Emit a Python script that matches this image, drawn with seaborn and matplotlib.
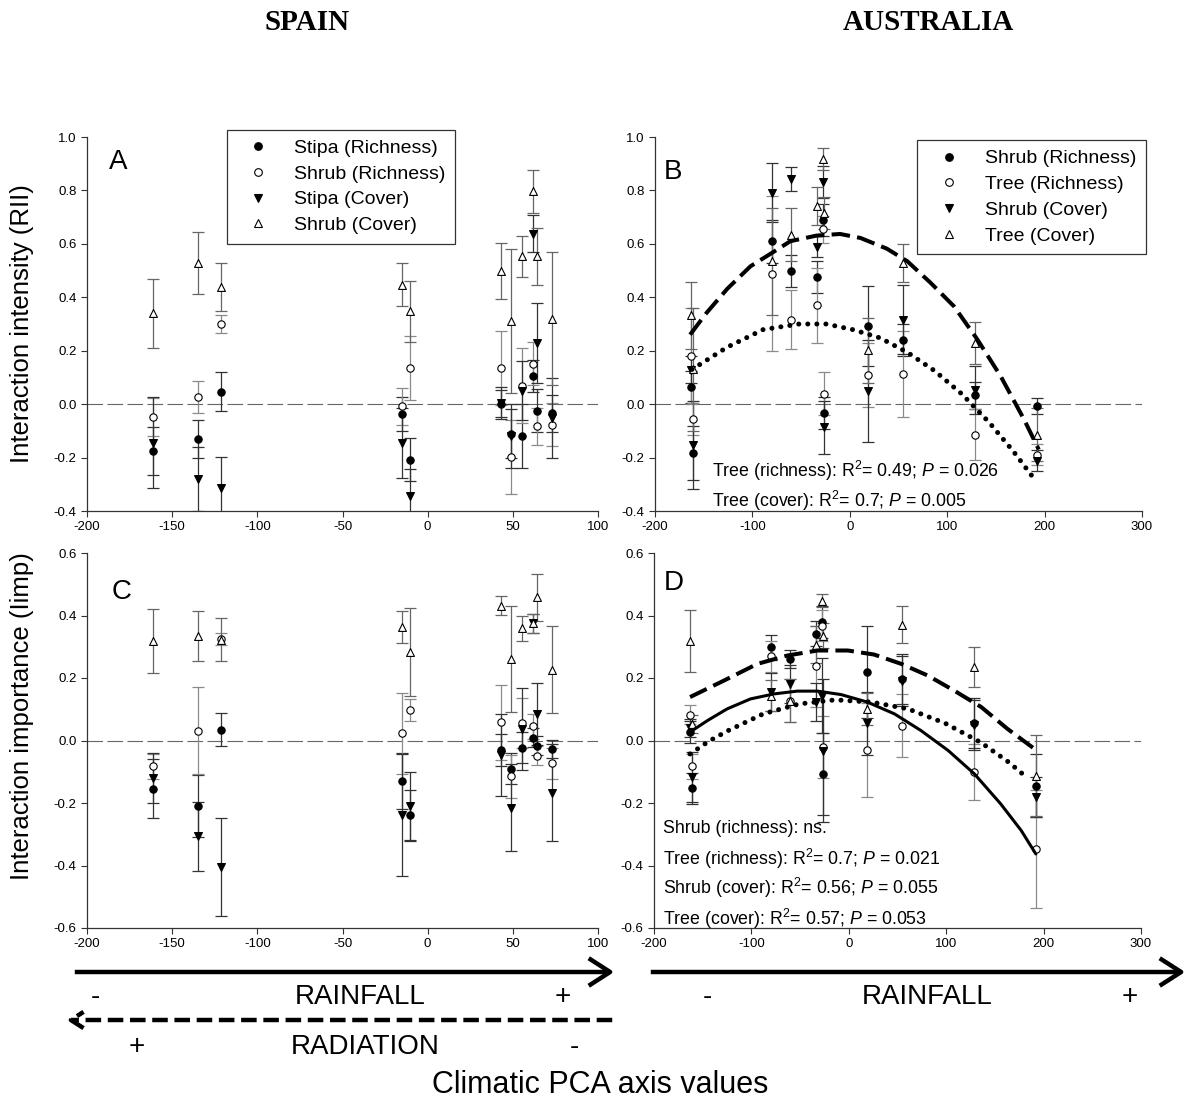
import seaborn as sns
import matplotlib.pyplot as plt
from matplotlib.lines import Line2D
from matplotlib.patches import FancyArrowPatch

### DATA
# site positions on the climatic PCA axis
spain_x = [-161, -135, -121.5, -15, -10.5, 43, 49, 55.5, 62, 64, 73]
aus_x = [-163, -161, -80, -60, -34, -28, -27, 19, 55, 129, 192]

# A - Spain, interaction intensity (RII)
a_stipa_rich = [-0.177, -0.13, 0.047, -0.037, -0.208, 0.002, -0.11, -0.118, 0.104, -0.024, -0.034]
a_stipa_rich_se = [0.09, 0.07, 0.072, 0.065, 0.08, 0.05, 0.09, 0.12, 0.06, 0.08, 0.07]
a_shrub_rich = [-0.048, 0.025, 0.30, -0.008, 0.134, 0.135, -0.198, 0.069, 0.152, -0.083, -0.077]
a_shrub_rich_se = [0.07, 0.06, 0.035, 0.07, 0.12, 0.14, 0.14, 0.14, 0.08, 0.07, 0.08]
a_stipa_cov = [-0.145, -0.28, -0.315, -0.145, -0.343, 0.004, -0.118, 0.05, 0.638, 0.229, -0.052]
a_stipa_cov_se = [0.17, 0.12, 0.117, 0.13, 0.1, 0.06, 0.12, 0.11, 0.07, 0.15, 0.15]
a_shrub_cov = [0.34, 0.529, 0.439, 0.447, 0.347, 0.50, 0.31, 0.553, 0.796, 0.553, 0.32]
a_shrub_cov_se = [0.128, 0.117, 0.09, 0.08, 0.115, 0.105, 0.27, 0.076, 0.08, 0.108, 0.25]

# C - Spain, interaction importance (Iimp)
c_stipa_rich = [-0.154, -0.21, 0.034, -0.13, -0.237, -0.03, -0.09, -0.023, 0.009, -0.016, -0.027]
c_stipa_rich_se = [0.095, 0.1, 0.053, 0.09, 0.08, 0.05, 0.05, 0.05, 0.03, 0.03, 0.03]
c_shrub_rich = [-0.083, 0.032, 0.325, 0.023, 0.099, 0.059, -0.115, 0.055, 0.046, -0.048, -0.073]
c_shrub_rich_se = [0.04, 0.14, 0.02, 0.13, 0.035, 0.12, 0.07, 0.08, 0.04, 0.03, 0.05]
c_stipa_cov = [-0.119, -0.307, -0.405, -0.237, -0.21, -0.046, -0.215, 0.037, 0.375, 0.085, -0.167]
c_stipa_cov_se = [0.08, 0.11, 0.157, 0.195, 0.11, 0.13, 0.14, 0.13, 0.03, 0.1, 0.155]
c_shrub_cov = [0.318, 0.336, 0.323, 0.363, 0.283, 0.432, 0.261, 0.359, 0.375, 0.459, 0.227]
c_shrub_cov_se = [0.103, 0.08, 0.07, 0.05, 0.14, 0.03, 0.17, 0.04, 0.03, 0.075, 0.138]

# B - Australia, RII
b_shrub_rich = [0.063, -0.183, 0.609, 0.497, 0.476, 0.691, -0.033, 0.291, 0.239, 0.033, -0.006]
b_shrub_rich_se = [0.06, 0.1, 0.08, 0.06, 0.06, 0.06, 0.06, 0.15, 0.06, 0.05, 0.03]
b_tree_rich = [0.179, -0.055, 0.489, 0.316, 0.37, 0.654, 0.039, 0.11, 0.113, -0.114, -0.189]
b_tree_rich_se = [0.18, 0.06, 0.29, 0.11, 0.14, 0.05, 0.08, 0.12, 0.16, 0.095, 0.04]
b_shrub_cov = [0.129, -0.152, 0.791, 0.843, 0.589, 0.831, -0.087, 0.05, 0.316, 0.054, -0.212]
b_shrub_cov_se = [0.05, 0.165, 0.11, 0.045, 0.04, 0.06, 0.1, 0.19, 0.13, 0.09, 0.04]
b_tree_cov = [0.333, 0.13, 0.535, 0.635, 0.741, 0.918, 0.716, 0.201, 0.529, 0.229, -0.114]
b_tree_cov_se = [0.125, 0.23, 0.2, 0.1, 0.07, 0.04, 0.06, 0.12, 0.07, 0.08, 0.1]

# D - Australia, Iimp
d_shrub_rich = [0.027, -0.153, 0.299, 0.261, 0.341, 0.379, -0.107, 0.219, 0.197, 0.055, -0.144]
d_shrub_rich_se = [0.035, 0.05, 0.04, 0.03, 0.04, 0.05, 0.13, 0.146, 0.08, 0.08, 0.1]
d_tree_rich = [0.083, -0.082, 0.269, 0.128, 0.237, 0.368, -0.021, -0.03, 0.048, -0.101, -0.347]
d_tree_rich_se = [0.03, 0.04, 0.05, 0.07, 0.13, 0.05, 0.1, 0.15, 0.1, 0.09, 0.19]
d_shrub_cov = [0.04, -0.117, 0.155, 0.181, 0.123, 0.144, -0.032, 0.055, 0.19, 0.05, -0.181]
d_shrub_cov_se = [0.03, 0.08, 0.06, 0.06, 0.06, 0.12, 0.23, 0.1, 0.08, 0.08, 0.065]
d_tree_cov = [0.318, 0.053, 0.144, 0.128, 0.307, 0.448, 0.336, 0.101, 0.371, 0.235, -0.112]
d_tree_cov_se = [0.1, 0.03, 0.05, 0.07, 0.06, 0.02, 0.04, 0.05, 0.06, 0.065, 0.13]

# fitted curves
b_fit_cov_x = [-164, -147, -126, -102, -80, -61, -34, -10, 11, 38, 59, 83, 107, 131, 155, 179, 194]
b_fit_cov_y = [0.26, 0.342, 0.431, 0.516, 0.566, 0.61, 0.631, 0.637, 0.622, 0.582, 0.535, 0.454, 0.366, 0.242, 0.104, -0.058, -0.17]
b_fit_rich_x = [-162, -126, -89, -52, -24, 3, 31, 59, 87, 115, 143, 168, 190]
b_fit_rich_y = [0.13, 0.213, 0.279, 0.30, 0.30, 0.279, 0.248, 0.194, 0.125, 0.038, -0.068, -0.177, -0.283]

d_fit_dash_x = [-163, -128, -94, -63, -32, -1, 26, 54, 81, 108, 136, 163, 189]
d_fit_dash_y = [0.139, 0.192, 0.245, 0.272, 0.288, 0.288, 0.275, 0.245, 0.208, 0.16, 0.107, 0.037, -0.023]
d_fit_solid_x = [-163, -145, -125, -101, -77, -53, -32, -8, 19, 47, 74, 102, 129, 156, 177, 192]
d_fit_solid_y = [0.027, 0.064, 0.101, 0.133, 0.149, 0.158, 0.158, 0.147, 0.123, 0.085, 0.032, -0.032, -0.107, -0.203, -0.288, -0.363]
d_fit_dot_x = [-163, -144, -125, -88, -51, -14, 23, 61, 99, 136, 164, 183]
d_fit_dot_y = [-0.043, -0.003, 0.03, 0.085, 0.117, 0.13, 0.123, 0.101, 0.055, -0.007, -0.069, -0.119]

spain_labels = ["Stipa (Richness)", "Shrub (Richness)", "Stipa (Cover)", "Shrub (Cover)"]
aus_labels = ["Shrub (Richness)", "Tree (Richness)", "Shrub (Cover)", "Tree (Cover)"]
rii_ticks = [-0.4, -0.2, 0.0, 0.2, 0.4, 0.6, 0.8, 1.0]
iimp_ticks = [-0.6, -0.4, -0.2, 0.0, 0.2, 0.4, 0.6]

### STYLE
sns.set_theme(style="ticks")
plt.rcParams['font.family'] = ['Liberation Sans', 'DejaVu Sans']
plt.rcParams['axes.unicode_minus'] = False
plt.rcParams['text.color'] = 'black'
plt.rcParams['mathtext.fontset'] = 'custom'
plt.rcParams['mathtext.rm'] = 'Liberation Sans'
plt.rcParams['mathtext.it'] = 'Liberation Sans:italic'

# (marker, filled, errorbar colour)
kinds = [('o', True, '#333333'), ('o', False, '#8a8a8a'), ('v', True, '#333333'), ('^', False, '#666666')]


def draw_series(ax, x, y, se, kind):
    marker, filled, ecol = kind
    ax.errorbar(x, y, yerr=se, fmt='none', ecolor=ecol, elinewidth=0.9,
                capsize=4, capthick=0.9, zorder=2)
    sns.scatterplot(x=x, y=y, ax=ax, marker=marker, s=32 if marker != 'o' else 28,
                    color='black' if filled else 'white', edgecolor='black',
                    linewidth=0.8, zorder=3, legend=False)


def style_axes(ax, xlim, xstep, yticks):
    ax.set_xlim(*xlim)
    ax.set_ylim(yticks[0], yticks[-1])
    ax.set_xticks(range(xlim[0], xlim[1] + 1, xstep))
    ax.set_yticks(yticks)
    ax.yaxis.set_major_formatter(plt.FormatStrFormatter('%.1f'))
    ax.tick_params(direction='out', length=4, width=0.8, colors='#333333',
                   labelsize=9.5, labelcolor='black', pad=3.5)
    for s in ['left', 'bottom']:
        ax.spines[s].set_color('#333333')
        ax.spines[s].set_linewidth(0.9)
    sns.despine(ax=ax)
    ax.axhline(0, color='#666666', lw=0.8, ls=(0, (14, 4)), zorder=1)


def add_legend(ax, labels, anchor):
    handles = [Line2D([], [], ls='none', marker=m, ms=5.5, mfc='black' if f else 'white',
                      mec='black', mew=0.8) for m, f, _ in kinds]
    leg = ax.legend(handles, labels, loc='upper left', bbox_to_anchor=anchor,
                    fontsize=14, frameon=True, fancybox=False, borderpad=0.5,
                    handlelength=2.2, handletextpad=0.75, labelspacing=0.42,
                    borderaxespad=0)
    leg.get_frame().set_edgecolor('black')
    leg.get_frame().set_linewidth(0.9)


fig = plt.figure(figsize=(11.97, 11.09), dpi=100)
W, H = 1197, 1109


def px_axes(l, t, r, b):
    return fig.add_axes([l / W, 1 - b / H, (r - l) / W, (b - t) / H])


axA = px_axes(87, 137, 598, 511)
axB = px_axes(655, 137, 1142, 511)
axC = px_axes(87, 553, 598, 928)
axD = px_axes(654, 553, 1141, 928)

# Panel A
for ys, se, k in zip([a_stipa_rich, a_shrub_rich, a_stipa_cov, a_shrub_cov],
                     [a_stipa_rich_se, a_shrub_rich_se, a_stipa_cov_se, a_shrub_cov_se], kinds):
    draw_series(axA, spain_x, ys, se, k)
style_axes(axA, (-200, 100), 50, rii_ticks)
add_legend(axA, spain_labels, (0.274, 1.02))
axA.text(0.061, 0.933, 'A', transform=axA.transAxes, fontsize=20, ha='center', va='center')

# Panel B
for ys, se, k in zip([b_shrub_rich, b_tree_rich, b_shrub_cov, b_tree_cov],
                     [b_shrub_rich_se, b_tree_rich_se, b_shrub_cov_se, b_tree_cov_se], kinds):
    draw_series(axB, aus_x, ys, se, k)
sns.lineplot(x=b_fit_cov_x, y=b_fit_cov_y, ax=axB, sort=False, estimator=None, color='black',
             lw=2.9, linestyle=(0, (4.6, 1.8)), zorder=4)
sns.lineplot(x=b_fit_rich_x, y=b_fit_rich_y, ax=axB, sort=False, estimator=None, color='black',
             lw=3.6, linestyle=(0, (0.01, 1.8)), dash_capstyle='round', zorder=4)
style_axes(axB, (-200, 300), 100, rii_ticks)
add_legend(axB, aus_labels, (0.539, 0.992))
axB.text(0.037, 0.906, 'B', transform=axB.transAxes, fontsize=20, ha='center', va='center')
axB.text(0.117, 0.091, r'Tree (richness): R$^2$= 0.49; $P$ = 0.026', transform=axB.transAxes,
         fontsize=12.8, va='baseline')
axB.text(0.117, 0.011, r'Tree (cover): R$^2$= 0.7; $P$ = 0.005', transform=axB.transAxes,
         fontsize=12.8, va='baseline')

# Panel C
for ys, se, k in zip([c_stipa_rich, c_shrub_rich, c_stipa_cov, c_shrub_cov],
                     [c_stipa_rich_se, c_shrub_rich_se, c_stipa_cov_se, c_shrub_cov_se], kinds):
    draw_series(axC, spain_x, ys, se, k)
style_axes(axC, (-200, 100), 50, iimp_ticks)
axC.text(0.068, 0.896, 'C', transform=axC.transAxes, fontsize=20, ha='center', va='center')

# Panel D
for ys, se, k in zip([d_shrub_rich, d_tree_rich, d_shrub_cov, d_tree_cov],
                     [d_shrub_rich_se, d_tree_rich_se, d_shrub_cov_se, d_tree_cov_se], kinds):
    draw_series(axD, aus_x, ys, se, k)
sns.lineplot(x=d_fit_dash_x, y=d_fit_dash_y, ax=axD, sort=False, estimator=None, color='black',
             lw=2.9, linestyle=(0, (4.6, 1.8)), zorder=4)
sns.lineplot(x=d_fit_solid_x, y=d_fit_solid_y, ax=axD, sort=False, estimator=None, color='black',
             lw=2.2, zorder=4)
sns.lineplot(x=d_fit_dot_x, y=d_fit_dot_y, ax=axD, sort=False, estimator=None, color='black',
             lw=3.6, linestyle=(0, (0.01, 1.8)), dash_capstyle='round', zorder=4)
style_axes(axD, (-200, 300), 100, iimp_ticks)
axD.text(0.041, 0.92, 'D', transform=axD.transAxes, fontsize=20, ha='center', va='center')
d_notes = ['Shrub (richness): ns.',
           r'Tree (richness): R$^2$= 0.7; $P$ = 0.021',
           r'Shrub (cover): R$^2$= 0.56; $P$ = 0.055',
           r'Tree (cover): R$^2$= 0.57; $P$ = 0.053']
for yy, txt in zip([0.2525, 0.168, 0.0907, 0.008], d_notes):
    axD.text(0.018, yy, txt, transform=axD.transAxes, fontsize=12.8, va='baseline')


### figure-level text and arrows
def ftext(x, y, s, **kw):
    fig.text(x / W, 1 - y / H, s, ha='center', va='center', color='black', **kw)


ftext(307, 22, 'SPAIN', family='Liberation Serif', weight='bold', fontsize=21)
ftext(928, 22, 'AUSTRALIA', family='Liberation Serif', weight='bold', fontsize=21)
ftext(22, 324, 'Interaction intensity (RII)', rotation=90, fontsize=18.5)
ftext(22, 716, 'Interaction importance (Iimp)', rotation=90, fontsize=18.5)
ftext(600, 1085, 'Climatic PCA axis values', fontsize=22)

for x, s in [(95, '-'), (360, 'RAINFALL'), (563, '+'), (707, '-'), (927, 'RAINFALL'), (1130, '+')]:
    ftext(x, 997, s, fontsize=20)
for x, s in [(137, '+'), (365, 'RADIATION'), (574, '-')]:
    ftext(x, 1047, s, fontsize=20)


def farrow(x0, x1, y, ls='-', scale=22):
    arr = FancyArrowPatch((x0 / W, 1 - y / H), (x1 / W, 1 - y / H), transform=fig.transFigure,
                          arrowstyle='->,head_length=0.7,head_width=0.45', mutation_scale=scale,
                          lw=3.2, color='black', linestyle=ls, capstyle='butt')
    fig.add_artist(arr)


farrow(72, 617, 972)
farrow(648, 1188, 972)
farrow(615, 64, 1020, ls=(0, (3.5, 1.5)), scale=13)

fig.savefig('out.png', dpi=100)
